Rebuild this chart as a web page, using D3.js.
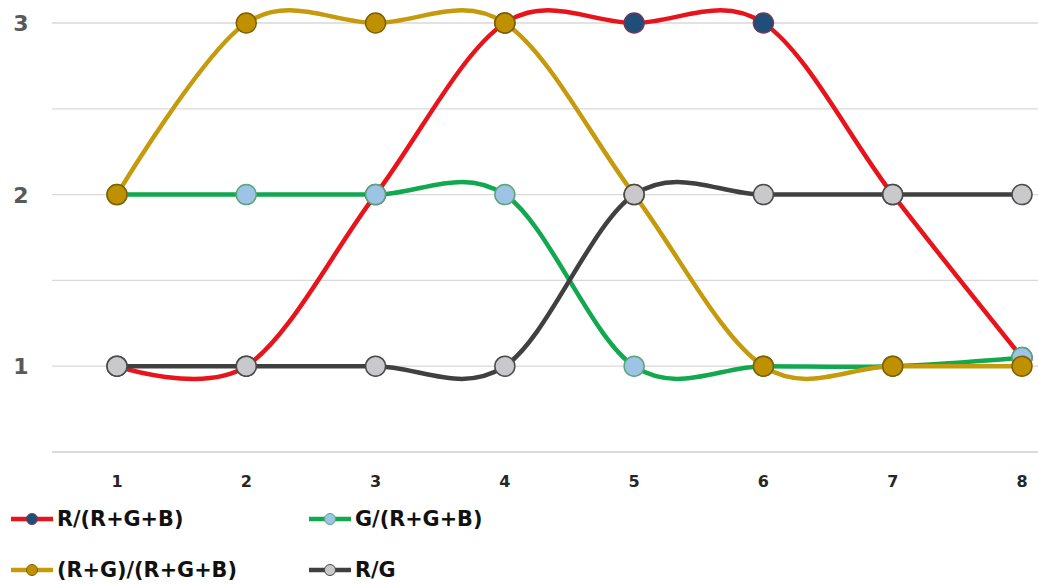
<!DOCTYPE html>
<html><head><meta charset="utf-8">
<script src="https://cdn.jsdelivr.net/npm/d3@7"></script>
<style>body{margin:0;background:#fff}svg{display:block}</style>
</head><body>
<svg id="c" width="1038" height="584"></svg>
<script>
const categories = [1,2,3,4,5,6,7,8];
const seriesNames = ["R/(R+G+B)", "G/(R+G+B)", "(R+G)/(R+G+B)", "R/G"];
const redValues   = [1,1,2,3,3,3,2,1.05];
const greenValues = [2,2,2,2,1,1,1,1.05];
const goldValues  = [2,3,3,3,2,1,1,1];
const darkValues  = [1,1,1,1,2,2,2,2];
const gridTicks = [0.5,1,1.5,2,2.5,3];
const yTickLabels = [1,2,3];

const styles = [
  {line:"#e8141b", fill:"#1f4e79", stroke:"#6b3a5a"},
  {line:"#12a84f", fill:"#9dc3e6", stroke:"#5aa57a"},
  {line:"#c59a0c", fill:"#bf9000", stroke:"#7f6000"},
  {line:"#404040", fill:"#c9c9cb", stroke:"#4a4a4a"}
];
const allValues = [redValues, greenValues, goldValues, darkValues];

const svg = d3.select("#c");
const x = d3.scaleLinear().domain([1,8]).range([117,1022]);
const y = d3.scaleLinear().domain([0.5,3]).range([452,23]);

svg.append("g").selectAll("line").data(gridTicks).join("line")
  .attr("x1",52).attr("x2",1038)
  .attr("y1",d=>y(d)).attr("y2",d=>y(d))
  .attr("stroke",d=>d===0.5?"#cfcfcf":"#d9d9d9").attr("stroke-width",1.3);

svg.append("g").selectAll("text").data(yTickLabels).join("text")
  .attr("x",21).attr("y",d=>y(d)).attr("dy","0.36em")
  .attr("text-anchor","middle")
  .attr("font-family","DejaVu Sans").attr("font-weight","bold").attr("font-size",22)
  .attr("fill","#595959").text(d=>d);

svg.append("g").selectAll("text").data(categories).join("text")
  .attr("x",d=>x(d)).attr("y",481).attr("dy","0.36em")
  .attr("text-anchor","middle")
  .attr("font-family","DejaVu Sans").attr("font-weight","bold").attr("font-size",16)
  .attr("fill","#262626").text(d=>d);

const line = d3.line().x((d,i)=>x(categories[i])).y(d=>y(d)).curve(d3.curveCatmullRom.alpha(0));

allValues.forEach((vals,k)=>{
  svg.append("path").datum(vals).attr("d",line)
    .attr("fill","none").attr("stroke",styles[k].line).attr("stroke-width",4.5)
    .attr("stroke-linecap","round");
});
allValues.forEach((vals,k)=>{
  svg.append("g").selectAll("circle").data(vals).join("circle")
    .attr("cx",(d,i)=>x(categories[i])).attr("cy",d=>y(d)).attr("r",10)
    .attr("fill",styles[k].fill).attr("stroke",styles[k].stroke).attr("stroke-width",1.5);
});

const legendPos = [[11,519],[309,519],[11,570],[309,570]];
seriesNames.forEach((name,k)=>{
  const [lx,ly] = legendPos[k];
  const g = svg.append("g");
  g.append("line").attr("x1",lx).attr("x2",lx+42).attr("y1",ly).attr("y2",ly)
    .attr("stroke",styles[k].line).attr("stroke-width",4.5);
  g.append("circle").attr("cx",lx+21).attr("cy",ly).attr("r",5.5)
    .attr("fill",styles[k].fill).attr("stroke",styles[k].stroke).attr("stroke-width",1);
  g.append("text").attr("x",lx+46).attr("y",ly).attr("dy","0.36em")
    .attr("font-family","DejaVu Sans").attr("font-weight","bold").attr("font-size",20.8)
    .attr("fill","#111").text(name);
});
</script>
</body></html>
